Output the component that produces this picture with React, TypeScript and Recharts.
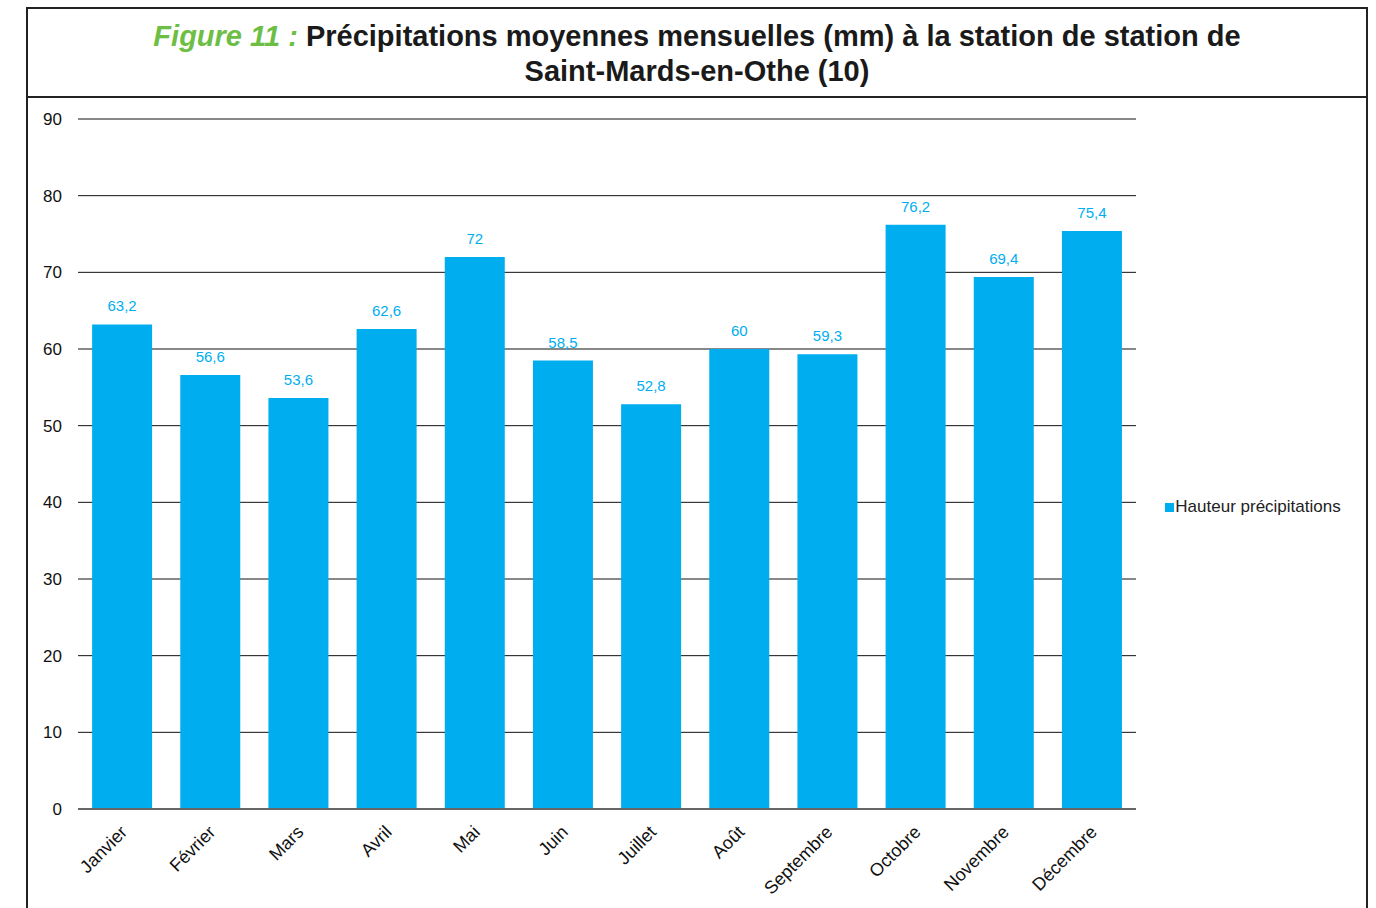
import React from 'react';
import { BarChart, Bar, XAxis, YAxis, CartesianGrid, Legend, LabelList } from 'recharts';

const months = ['Janvier', 'Février', 'Mars', 'Avril', 'Mai', 'Juin', 'Juillet', 'Août', 'Septembre', 'Octobre', 'Novembre', 'Décembre'];
const rainfall = [63.2, 56.6, 53.6, 62.6, 72, 58.5, 52.8, 60, 59.3, 76.2, 69.4, 75.4];
const yTicks = [0, 10, 20, 30, 40, 50, 60, 70, 80, 90];

const data = months.map((m, i) => ({ month: m, value: rainfall[i] }));

const FONT = '"Liberation Sans", Arial, sans-serif';
const BLUE = '#00AEEF';

const MonthTick = (props: any) => {
  const { x, y, payload } = props;
  return (
    <g transform={`translate(${x + 2},${y + 12})`}>
      <text transform="rotate(-45)" textAnchor="end" dominantBaseline="central" fontSize={18} fill="#111" fontFamily={FONT}>
        {payload.value}
      </text>
    </g>
  );
};

const App: React.FC = () => {
  return (
    <div style={{ position: 'absolute', left: 0, top: 0, width: 1376, height: 908, background: '#fff', overflow: 'hidden', fontFamily: FONT }}>
      {/* frame */}
      <div style={{ position: 'absolute', left: 26, top: 7, width: 1338, height: 960, border: '2px solid #222' }} />
      <div style={{ position: 'absolute', left: 26, top: 96, width: 1342, height: 2, background: '#222' }} />
      <div style={{ position: 'absolute', left: 28, top: 19, width: 1338, textAlign: 'center', fontSize: 29, fontWeight: 'bold', lineHeight: '35px', color: '#1a1a1a' }}>
        <span style={{ color: '#6DBE45', fontStyle: 'italic' }}>Figure 11 :</span> Précipitations moyennes mensuelles (mm) à la station de station de
        <br />
        Saint-Mards-en-Othe (10)
      </div>
      <div style={{ position: 'absolute', left: 0, top: 0 }}>
        <BarChart width={1376} height={908} data={data} margin={{ top: 119, right: 240, bottom: 19, left: 28 }} barCategoryGap="16%">
          <CartesianGrid vertical={false} stroke="#111" strokeWidth={1} />
          <XAxis
            dataKey="month"
            tick={<MonthTick />}
            tickLine={false}
            axisLine={{ stroke: '#666', strokeWidth: 2 }}
            height={80}
            interval={0}
          />
          <YAxis
            domain={[0, 90]}
            ticks={yTicks}
            width={50}
            axisLine={false}
            tickLine={false}
            tickMargin={10}
            tick={{ fontSize: 17, fill: '#111', fontFamily: FONT }}
          />
          <Legend
            layout="horizontal"
            verticalAlign="middle"
            align="center"
            iconType="square"
            iconSize={9}
            wrapperStyle={{ left: 1148, top: 497, width: 220, fontSize: 17, fontFamily: FONT, textAlign: 'left' }}
            formatter={(v: string) => <span style={{ color: '#222', marginLeft: -3 }}>{v}</span>}
          />
          <Bar dataKey="value" name="Hauteur précipitations" fill={BLUE} isAnimationActive={false}>
            <LabelList
              dataKey="value"
              position="top"
              offset={13}
              fill={BLUE}
              fontSize={15}
              fontFamily={FONT}
              formatter={(v: any) => String(v).replace('.', ',')}
            />
          </Bar>
        </BarChart>
      </div>
    </div>
  );
};

export default App;
